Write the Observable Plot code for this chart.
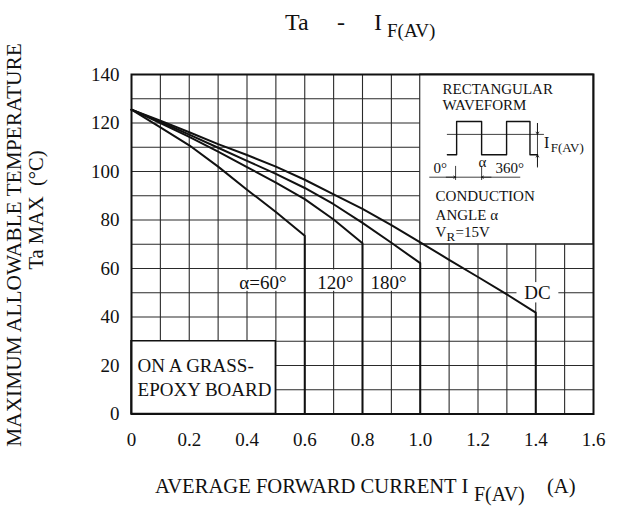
<!DOCTYPE html>
<html><head><meta charset="utf-8">
<script src="https://cdn.jsdelivr.net/npm/d3@7"></script>
<script src="https://cdn.jsdelivr.net/npm/@observablehq/plot@0.6"></script>
<style>
body{margin:0;background:#fff}
svg{font-family:"Liberation Serif","Times New Roman",serif}
</style>
</head><body><div id="chart"></div>
<script>
// ---- data ----
const xTicks = [0, 0.2, 0.4, 0.6, 0.8, 1.0, 1.2, 1.4, 1.6];
const yTicks = [0, 20, 40, 60, 80, 100, 120, 140];
const xGrid = [0.1,0.2,0.3,0.4,0.5,0.6,0.7,0.8,0.9,1.0,1.1,1.2,1.3,1.4,1.5];
const yGrid = [10,20,30,40,50,60,70,80,90,100,110,120,130];

const current60  = [0, 0.1, 0.2, 0.3, 0.4, 0.5, 0.6, 0.6];
const temp60     = [125.5, 118.2, 110.8, 102, 92.5, 83.3, 73.5, 0];
const current120 = [0, 0.1, 0.2, 0.3, 0.4, 0.5, 0.6, 0.7, 0.8, 0.8];
const temp120    = [125.5, 120, 114.3, 108.2, 101.8, 95.4, 88.6, 80.2, 70.4, 0];
const current180 = [0, 0.1, 0.2, 0.3, 0.4, 0.5, 0.6, 0.7, 0.8, 0.9, 1.0, 1.0];
const temp180    = [125.5, 120.5, 115.2, 109.8, 104.4, 99, 93.2, 86.5, 78.8, 70.6, 62.2, 0];
const currentDC  = [0, 0.1, 0.2, 0.3, 0.4, 0.5, 0.6, 0.7, 0.8, 0.9, 1.0, 1.1, 1.2, 1.3, 1.4, 1.4];
const tempDC     = [125.5, 121, 116.2, 111.3, 106.8, 102, 96.6, 90.6, 84.6, 77.9, 70.8, 63.6, 56.5, 49.3, 41.8, 0];

const seriesNames = ["α=60°", "120°", "180°", "DC"];

// ---- build rows ----
const pairs = [[current60,temp60],[current120,temp120],[current180,temp180],[currentDC,tempDC]];
const rows = pairs.flatMap(([xs, ts], i) => xs.map((x, j) => ({series: seriesNames[i], x, t: ts[j]})));

// annotation layout (data coordinates)
const labelPos = [
  {text: "α=60°", x: 0.455, y: 54, x1: 0.36, x2: 0.565, y1: 50.6, y2: 59.4},
  {text: "120°",  x: 0.706, y: 54, x1: 0.635, x2: 0.78, y1: 50.6, y2: 59.4},
  {text: "180°",  x: 0.89,  y: 54, x1: 0.82, x2: 0.97, y1: 50.6, y2: 59.4},
  {text: "DC",    x: 1.406, y: 50, x1: 1.335, x2: 1.48, y1: 45.8, y2: 54.2}
];
const waveX = [1.094, 1.126, 1.126, 1.2125, 1.2125, 1.299, 1.299, 1.380, 1.380, 1.406];
const waveT = [106.9, 106.9, 120.6, 120.6, 106.9, 106.9, 120.6, 120.6, 106.9, 106.9];
const wave = waveX.map((x, i) => ({x, t: waveT[i]}));

const insetText = [
  {text: "RECTANGULAR", x: 1.077, y: 132},
  {text: "WAVEFORM", x: 1.077, y: 125.4},
  {text: "0°", x: 1.046, y: 99.2},
  {text: "360°", x: 1.261, y: 99.2},
  {text: "CONDUCTION", x: 1.053, y: 88},
  {text: "ANGLE α", x: 1.053, y: 80.1},
  {text: "V", x: 1.053, y: 72.9},
  {text: "=15V", x: 1.122, y: 72.9}
];

const plot = Plot.plot({
  width: 624, height: 512,
  marginLeft: 131, marginRight: 31, marginTop: 74, marginBottom: 98.5,
  style: {fontFamily: "Liberation Serif, Times New Roman, serif", fontSize: "19px", color: "#111"},
  x: {domain: [0, 1.6]},
  y: {domain: [0, 140]},
  marks: [
    Plot.ruleX(xGrid, {stroke: "#2a2a2a", strokeWidth: 1.1}),
    Plot.ruleY(yGrid, {stroke: "#2a2a2a", strokeWidth: 1.1}),
    // inset white panel
    Plot.rect([{x1: 1.0, x2: 1.6, y1: 70, y2: 140}], {x1: "x1", x2: "x2", y1: "y1", y2: "y2", fill: "white", stroke: "#2a2a2a", strokeWidth: 1.1, inset: 0}),
    // label backgrounds
    Plot.rect(labelPos, {x1: "x1", x2: "x2", y1: "y1", y2: "y2", fill: "white", inset: 0}),
    // board box
    Plot.rect([{x1: 0, x2: 0.5, y1: 0, y2: 30}], {x1: "x1", x2: "x2", y1: "y1", y2: "y2", fill: "white", stroke: "#111", strokeWidth: 1.5, inset: 0}),
    Plot.text(["ON A GRASS-", "EPOXY BOARD"], {x: () => 0.021, y: (d, i) => i === 0 ? 20 : 9.8, text: d => d, textAnchor: "start", fontSize: 19, fill: "#111"}),
    // curves
    Plot.line(rows, {x: "x", y: "t", z: "series", stroke: "#111", strokeWidth: 2, curve: "linear"}),
    Plot.text(labelPos, {x: "x", y: "y", text: "text", fontSize: 19, fill: "#111"}),
    // inset drawing
    Plot.line(wave, {x: "x", y: "t", stroke: "#111", strokeWidth: 1.4}),
    Plot.ruleY([115.3], {x1: 1.094, x2: 1.43, stroke: "#111", strokeWidth: 0.8}),
    Plot.ruleX([1.406], {y1: 101.8, y2: 119.8, stroke: "#111", strokeWidth: 0.8}),
    Plot.arrow([{x1: 1.406, y1: 119.8, x2: 1.406, y2: 115.3}, {x1: 1.406, y1: 101.8, x2: 1.406, y2: 106.9}], {x1: "x1", y1: "y1", x2: "x2", y2: "y2", headLength: 5, stroke: "#111", strokeWidth: 0.8}),
    Plot.ruleY([97.65], {x1: 1.033, x2: 1.348, stroke: "#111", strokeWidth: 0.8}),
    Plot.ruleX([1.1224, 1.2125], {y1: 96.3, y2: 102.1, stroke: "#111", strokeWidth: 0.8}),
    Plot.arrow([{x1: 1.09, y1: 97.65, x2: 1.1224, y2: 97.65}, {x1: 1.245, y1: 97.65, x2: 1.2125, y2: 97.65}], {x1: "x1", y1: "y1", x2: "x2", y2: "y2", headLength: 4, stroke: "#111", strokeWidth: 0.8}),
    Plot.text(insetText, {x: "x", y: "y", text: "text", textAnchor: "start", lineAnchor: "bottom", fontSize: 15, fill: "#111"}),
    Plot.text(["α"], {x: () => 1.215, y: () => 102, text: d => d, lineAnchor: "bottom", fontSize: 15, fill: "#111"}),
    Plot.text(["R"], {x: () => 1.091, y: () => 71.2, text: d => d, textAnchor: "start", lineAnchor: "bottom", fontSize: 13, fill: "#111"}),
    Plot.text(["I"], {x: () => 1.429, y: () => 109.5, text: d => d, textAnchor: "start", lineAnchor: "bottom", fontSize: 16, fill: "#111"}),
    Plot.text(["F(AV)"], {x: () => 1.452, y: () => 108, text: d => d, textAnchor: "start", lineAnchor: "bottom", fontSize: 13, fill: "#111"}),
    // axes
    Plot.axisX(xTicks, {tickSize: 0, tickPadding: 18, tickFormat: d => d === 0 ? "0" : d.toFixed(1), fontSize: 19, label: null}),
    Plot.axisY(yTicks, {tickSize: 0, tickPadding: 12, fontSize: 19, label: null}),
    Plot.frame({stroke: "#111", strokeWidth: 2})
  ]
});

const svg = d3.select(plot);
const addText = (x, y, str, size, attrs = {}) => {
  const t = svg.append("text").attr("x", x).attr("y", y).attr("font-size", size)
    .attr("fill", "#111").attr("text-anchor", "start").text(str);
  for (const k in attrs) t.attr(k, attrs[k]);
  return t;
};
// title
addText(285, 30, "Ta", 24);
addText(337, 30, "-", 24);
addText(374, 30, "I", 24);
addText(387, 37, "F(AV)", 19);
// x label
addText(155, 493, "AVERAGE FORWARD CURRENT I", 20.6);
addText(474, 501, "F(AV)", 20);
addText(547, 493, "(A)", 20.6);
// y labels
addText(0, 0, "MAXIMUM ALLOWABLE TEMPERATURE", 21.4, {"text-anchor": "middle", transform: "translate(21,245) rotate(-90)"});
addText(0, 0, "Ta MAX  (°C)", 20.5, {"text-anchor": "middle", transform: "translate(43,210) rotate(-90)"});

document.getElementById("chart").appendChild(plot);
</script>
</body></html>
